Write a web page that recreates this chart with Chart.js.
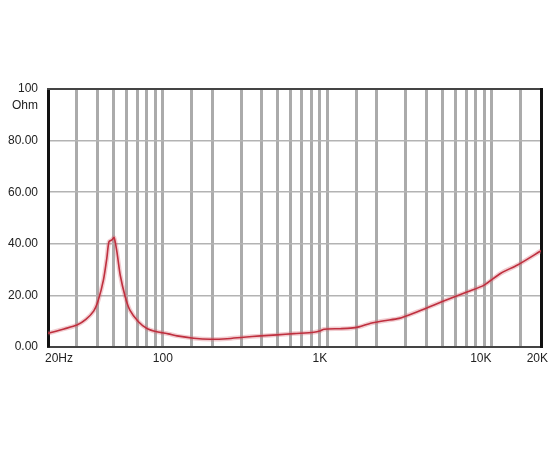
<!DOCTYPE html>
<html>
<head>
<meta charset="utf-8">
<script src="https://cdn.jsdelivr.net/npm/chart.js@4.4.1/dist/chart.umd.min.js"></script>
<style>
  html, body { margin: 0; padding: 0; background: #fff; }
  #wrap { width: 550px; height: 450px; }
</style>
</head>
<body>
<div id="wrap"><canvas id="imp" width="550" height="450"></canvas></div>
<script>
// impedance curve
const freqs = [20, 25, 30, 34, 38, 40.5, 43.5, 45.6, 47, 49, 50.5, 52.5, 55, 59, 63, 71, 80, 92, 108, 122, 154, 194, 246, 310, 393, 496, 626, 830, 912, 955, 1200, 1390, 1560, 1840, 2220, 2740, 3540, 4470, 5650, 7150, 9020, 11400, 14400, 20000];
const ohms  = [5.3, 7.0, 8.5, 10.7, 14, 18.2, 26, 34.4, 40.8, 41.5, 42.4, 37, 27.9, 19.5, 14.3, 9.8, 7.2, 5.9, 5.1, 4.3, 3.4, 3.0, 3.2, 3.8, 4.3, 4.7, 5.2, 5.7, 6.3, 6.9, 7.1, 7.3, 7.8, 9.2, 10.2, 11.1, 13.7, 16.3, 18.9, 21.4, 24.0, 28.6, 31.8, 37.3];

// vertical grid lines (Hz)
const gridFreqs = [30, 40, 50, 60, 70, 80, 90, 100, 150, 200, 300, 400, 500, 600, 700, 800, 900, 1000, 1500, 2000, 3000, 4000, 5000, 6000, 7000, 8000, 9000, 10000, 15000];

// x labels
const xLabelVals = [20, 100, 1000, 10000, 20000];
const xLabels = ['20Hz', '100', '1K', '10K', '20K'];
const xLabelAlign = ['left', 'center', 'right', 'right', 'right'];

const FONT = '12px "Liberation Sans", Arial, sans-serif';

const points = freqs.map((f, i) => ({ x: f, y: ohms[i] }));

// draws the x labels and the "Ohm" unit under 100
const textPlugin = {
  id: 'texts',
  afterDraw(chart) {
    const ctx = chart.ctx;
    const xs = chart.scales.x, ys = chart.scales.y;
    ctx.save();
    ctx.font = FONT;
    ctx.fillStyle = '#222';
    ctx.textBaseline = 'middle';
    xLabelVals.forEach((v, i) => {
      let px = xs.getPixelForValue(v);
      if (i === 0) px -= 3;
      if (i === xLabelVals.length - 1) px += 7;
      ctx.textAlign = xLabelAlign[i];
      ctx.fillText(xLabels[i], px, chart.chartArea.bottom + 12);
    });
    ctx.textAlign = 'right';
    ctx.fillText('Ohm', chart.chartArea.left - 10, ys.getPixelForValue(100) + 17);
    ctx.restore();
  }
};

new Chart(document.getElementById('imp'), {
  type: 'line',
  data: {
    datasets: [
      {
        data: points,
        borderColor: '#bf2f3e',
        borderWidth: 1.6,
        pointRadius: 0,
        tension: 0.25,
        fill: false
      },
      {
        // soft pink halo under the line
        data: points,
        borderColor: 'rgba(215,110,120,0.35)',
        borderWidth: 4.5,
        pointRadius: 0,
        tension: 0.25,
        fill: false
      }
    ]
  },
  options: {
    responsive: false,
    animation: false,
    layout: { padding: { top: 89, right: 9, left: 0, bottom: 0 } },
    plugins: { legend: { display: false }, tooltip: { enabled: false } },
    scales: {
      x: {
        type: 'logarithmic',
        min: 20,
        max: 20000,
        afterBuildTicks: (s) => { s.ticks = gridFreqs.map(v => ({ value: v })); },
        afterFit: (s) => { s.height = 103; },
        ticks: { display: false },
        grid: { color: '#ababab', lineWidth: 3, drawTicks: false },
        border: { color: '#444', width: 2 }
      },
      y: {
        min: 0,
        max: 100,
        afterFit: (s) => { s.width = 48; },
        ticks: {
          stepSize: 20,
          padding: 10,
          color: '#222',
          font: { family: '"Liberation Sans", Arial, sans-serif', size: 12 },
          callback: (v) => v === 100 ? '100' : v.toFixed(2)
        },
        grid: { color: '#b3b3b3', lineWidth: 1.5, drawTicks: false },
        border: { color: '#111', width: 3 }
      },
      xTop: {
        position: 'top',
        type: 'linear',
        display: true,
        ticks: { display: false },
        grid: { display: false, drawTicks: false },
        border: { color: '#444', width: 2 },
        afterFit: (s) => { s.height = 0; }
      },
      yRight: {
        position: 'right',
        type: 'linear',
        display: true,
        ticks: { display: false },
        grid: { display: false, drawTicks: false },
        border: { color: '#111', width: 3 },
        afterFit: (s) => { s.width = 0; }
      }
    }
  },
  plugins: [textPlugin]
});
</script>
</body>
</html>
